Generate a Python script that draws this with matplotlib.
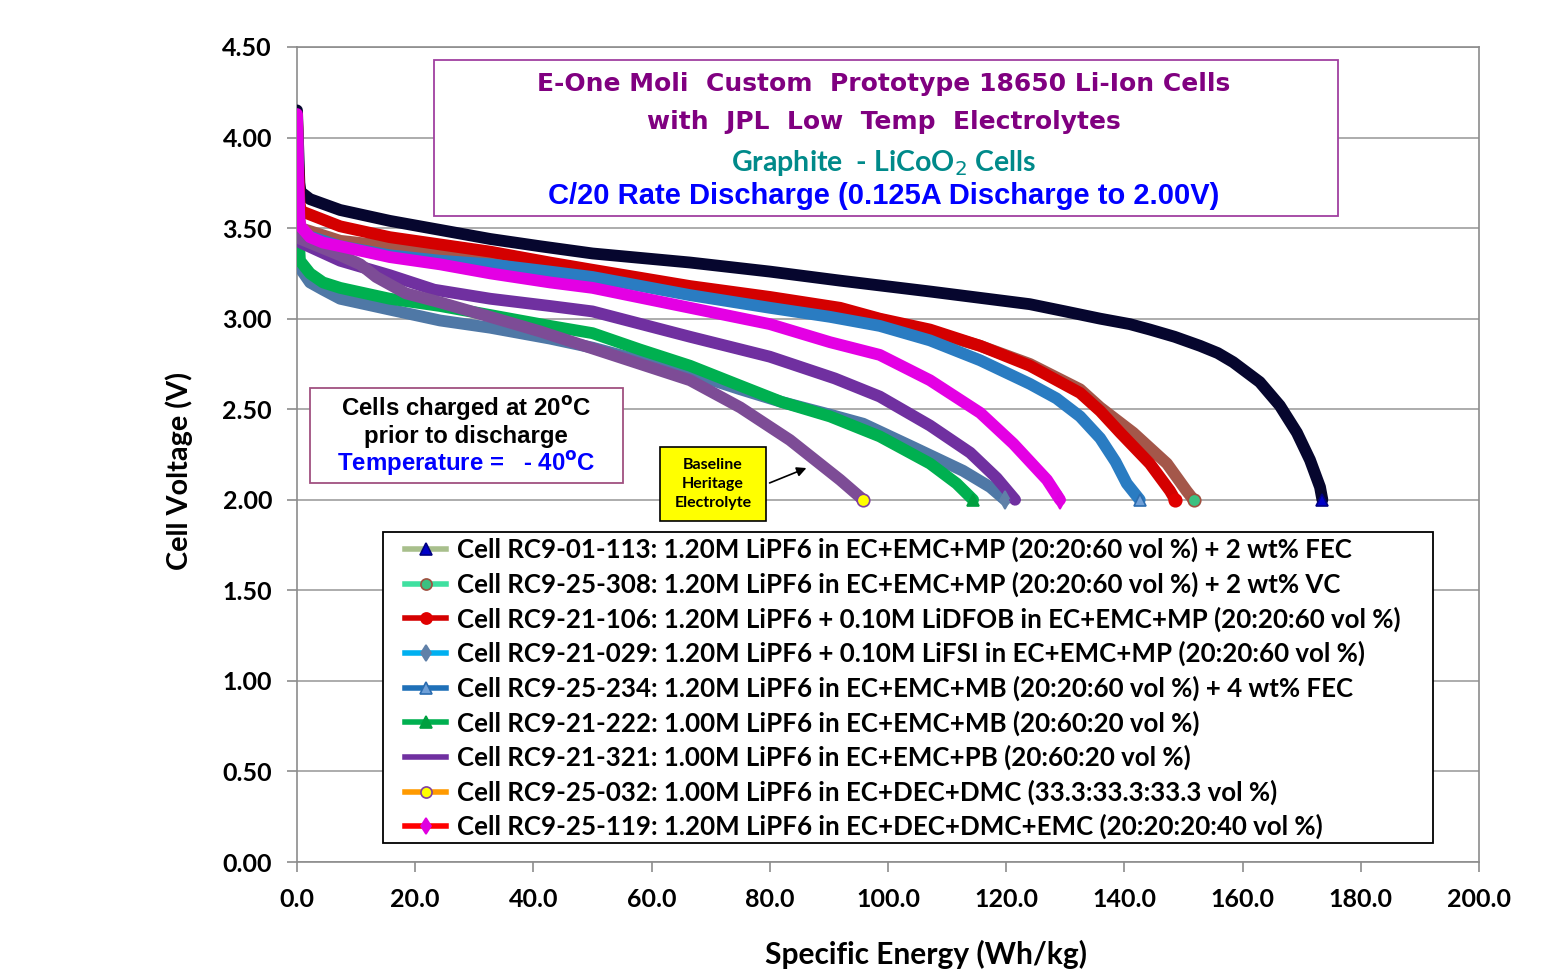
import matplotlib
matplotlib.use("Agg")
import matplotlib.pyplot as plt
from matplotlib.lines import Line2D
from matplotlib.patches import Rectangle

# ---------------- data ----------------
labels = [
    "Cell RC9-01-113: 1.20M LiPF6 in EC+EMC+MP (20:20:60 vol %) + 2 wt% FEC",
    "Cell RC9-25-308: 1.20M LiPF6 in EC+EMC+MP (20:20:60 vol %) + 2 wt% VC",
    "Cell RC9-21-106: 1.20M LiPF6 + 0.10M LiDFOB in EC+EMC+MP (20:20:60 vol %)",
    "Cell RC9-21-029: 1.20M LiPF6 + 0.10M LiFSI in EC+EMC+MP (20:20:60 vol %)",
    "Cell RC9-25-234: 1.20M LiPF6 in EC+EMC+MB (20:20:60 vol %) + 4 wt% FEC",
    "Cell RC9-21-222: 1.00M LiPF6 in EC+EMC+MB (20:60:20 vol %)",
    "Cell RC9-21-321: 1.00M LiPF6 in EC+EMC+PB (20:60:20 vol %)",
    "Cell RC9-25-032: 1.00M LiPF6 in EC+DEC+DMC (33.3:33.3:33.3 vol %)",
    "Cell RC9-25-119: 1.20M LiPF6 in EC+DEC+DMC+EMC (20:20:20:40 vol %)",
]

e_113 = [0, 0.2, 0.4, 0.6, 2.2, 7.3, 15.7, 24.2, 32.7, 41.1, 50, 66.5, 80, 91.9, 107.1,
         124, 130, 135.9, 140.9, 144.3, 148.5, 152.8, 155.8, 158.4, 162.9, 166.3, 169.2,
         171.4, 173.1, 173.5]
v_113 = [4.15, 3.95, 3.75, 3.70, 3.66, 3.60, 3.54, 3.49, 3.44, 3.40, 3.36, 3.31, 3.26, 3.21, 3.15,
         3.08, 3.04, 3.00, 2.97, 2.94, 2.90, 2.85, 2.81, 2.76, 2.65, 2.52, 2.37,
         2.22, 2.07, 2.00]

e_308 = [0, 0.2, 0.4, 0.6, 7.3, 15.7, 32.7, 50, 66.5, 91.9, 107.1, 115.6, 124, 132.5,
         135.9, 141.5, 147.2, 150.5, 151.7]
v_308 = [4.10, 3.75, 3.55, 3.50, 3.43, 3.40, 3.34, 3.26, 3.17, 3.05, 2.93, 2.85, 2.75, 2.61,
         2.51, 2.37, 2.20, 2.05, 2.00]

e_106 = [0, 0.2, 0.4, 0.6, 1.0, 7.3, 15.7, 24.2, 32.7, 42.8, 50, 66.5, 80, 91.9, 98.6,
         107.1, 115.6, 124, 132.5, 135.9, 139.3, 144.3, 147.7, 148.6]
v_106 = [4.12, 3.85, 3.65, 3.60, 3.59, 3.51, 3.45, 3.41, 3.37, 3.31, 3.27, 3.18, 3.12, 3.06, 3.00,
         2.94, 2.85, 2.74, 2.59, 2.49, 2.37, 2.20, 2.05, 2.00]

e_029 = [0, 0.2, 0.5, 2.2, 4.4, 7.3, 15.7, 24.2, 32.7, 42.8, 50, 58, 66.5, 75, 82, 90.2,
         95.8, 104.3, 112.7, 117.3, 119.8]
v_029 = [4.10, 3.40, 3.28, 3.20, 3.16, 3.11, 3.05, 2.99, 2.95, 2.89, 2.84, 2.77, 2.70, 2.61,
         2.54, 2.47, 2.42, 2.29, 2.16, 2.07, 2.00]

e_234 = [0, 0.2, 0.4, 0.6, 7.3, 15.7, 24.2, 32.7, 42.8, 50, 66.5, 80, 90.2, 98.6, 107.1,
         115.6, 124, 128.5, 132.5, 135.9, 138.5, 140.4, 142.6]
v_234 = [4.10, 3.70, 3.52, 3.47, 3.40, 3.35, 3.32, 3.30, 3.26, 3.23, 3.13, 3.06, 3.01, 2.96,
         2.88, 2.77, 2.64, 2.56, 2.46, 2.34, 2.21, 2.09, 2.00]

e_222 = [0, 0.2, 0.5, 2.2, 4.4, 7.3, 15.7, 24.2, 32.7, 42.8, 50, 58, 66.5, 75, 82, 90.2,
         98.6, 107.1, 111.6, 114.4]
v_222 = [4.10, 3.50, 3.32, 3.25, 3.20, 3.17, 3.11, 3.07, 3.02, 2.96, 2.92, 2.83, 2.74, 2.63,
         2.54, 2.46, 2.35, 2.20, 2.09, 2.00]

e_321 = [0, 0.2, 0.4, 0.6, 7.3, 15.7, 23.2, 32.7, 42.8, 50, 66.5, 80, 91, 98.6, 107.1,
         113.9, 118.4, 121.5]
v_321 = [4.10, 3.65, 3.46, 3.42, 3.32, 3.24, 3.16, 3.11, 3.07, 3.04, 2.90, 2.79, 2.67, 2.57,
         2.41, 2.26, 2.12, 2.00]

e_032 = [0, 0.2, 0.4, 0.6, 7.3, 10.7, 13.4, 18.4, 24.2, 32.7, 41.1, 52.4, 66.5, 75, 83.4,
         91.9, 95.8]
v_032 = [4.10, 3.65, 3.48, 3.44, 3.35, 3.30, 3.23, 3.14, 3.09, 3.01, 2.93, 2.81, 2.66, 2.51,
         2.33, 2.11, 2.00]

e_119 = [0, 0.2, 0.4, 0.6, 2.2, 4.4, 7.3, 15.7, 24.2, 32.7, 42.8, 50, 66.5, 80, 90.2, 98.6,
         107.1, 115.6, 121.2, 126.9, 129.1]
v_119 = [4.13, 3.80, 3.55, 3.51, 3.45, 3.42, 3.40, 3.34, 3.30, 3.25, 3.20, 3.17, 3.06, 2.97,
         2.87, 2.80, 2.66, 2.48, 2.31, 2.11, 2.00]

energies = [e_113, e_308, e_106, e_029, e_234, e_222, e_321, e_032, e_119]
voltages = [v_113, v_308, v_106, v_029, v_234, v_222, v_321, v_032, v_119]

x_ticks = [0, 20, 40, 60, 80, 100, 120, 140, 160, 180, 200]
y_ticks = [0.0, 0.5, 1.0, 1.5, 2.0, 2.5, 3.0, 3.5, 4.0, 4.5]

# ---------------- styles ----------------
body_colors = ["#06062e", "#a4574a", "#d40000", "#4f78a6", "#2a7cc2",
               "#00b050", "#7030a0", "#7d4c96", "#e400e4"]
legend_line_colors = ["#a8bf8c", "#3fe0a0", "#d40000", "#00b0f0", "#1f70b8",
                      "#00b050", "#7030a0", "#ff9a00", "#ff0000"]
markers = ["^", "o", "o", "d", "^", "^", "_", "o", "d"]
marker_faces = ["#0000c8", "#3cc080", "#e00000", "#6080a8", "#6fa0d8",
                "#00a040", "#7030a0", "#ffff00", "#e000e0"]
marker_edges = ["#000080", "#a05040", "#e00000", "#6080a8", "#2a6cb0",
                "#00a040", "#7030a0", "#8040a0", "#e000e0"]

FONT = "Lato"

fig = plt.figure(figsize=(15.47, 9.69), dpi=100)
ax = fig.add_axes([297 / 1547, 107 / 969, 1182 / 1547, 815 / 969])


def fx(px):
    return (px - 297) / 1182


def fy(py):
    return (862 - py) / 815


for i in range(len(labels)):
    ax.plot(energies[i], voltages[i], color=body_colors[i], lw=8.5,
            solid_capstyle="round", solid_joinstyle="round", zorder=3 + i)
    ax.plot(energies[i][-1:], voltages[i][-1:], linestyle="none",
            marker=markers[i], ms=9, mfc=marker_faces[i], mec=marker_edges[i],
            mew=1.2, zorder=20 + i)

ax.set_xlim(0, 200)
ax.set_ylim(0, 4.5)
ax.set_xticks(x_ticks)
ax.set_yticks(y_ticks)
ax.set_xticklabels([f"{t:.1f}" for t in x_ticks])
ax.set_yticklabels([f"{t:.2f}" for t in y_ticks])
ax.yaxis.grid(True, color="#a6a6a6", lw=1.3, zorder=0)
ax.set_axisbelow(True)
for s in ax.spines.values():
    s.set_color("#8c8c8c")
    s.set_linewidth(1.2)
ax.tick_params(axis="both", direction="out", length=7, width=1.2, color="#8c8c8c",
               labelsize=18)
ax.tick_params(axis="y", pad=11)
ax.tick_params(axis="x", pad=12)
for lab in ax.get_xticklabels() + ax.get_yticklabels():
    lab.set_fontfamily(FONT)
    lab.set_fontweight("bold")

ax.set_xlabel("Specific Energy (Wh/kg)", fontfamily=FONT, fontweight="bold", fontsize=21.5)
ax.set_ylabel("Cell Voltage (V)", fontfamily=FONT, fontweight="bold", fontsize=20.7)
ax.xaxis.set_label_coords(fx(926), fy(940))
ax.yaxis.set_label_coords(fx(193), fy(471))

# ---------------- legend ----------------
ax.add_patch(Rectangle((fx(383), fy(843)), fx(1433) - fx(383), fy(532) - fy(843),
                       transform=ax.transAxes, ec="#000000", fc="white", lw=1.3, zorder=39))
handles = [Line2D([0], [0], color=legend_line_colors[i], lw=4, marker=markers[i],
                  ms=8, mfc=marker_faces[i], mec=marker_edges[i], mew=1.2)
           for i in range(len(labels))]
leg = ax.legend(handles, labels, loc="upper left",
                bbox_to_anchor=(fx(405), fy(537)),
                prop={"family": FONT, "weight": "bold", "size": 18.6},
                frameon=False, handlelength=1.6, handletextpad=0.42,
                labelspacing=0.36, borderpad=0, borderaxespad=0)
leg.set_zorder(40)

# ---------------- annotation boxes ----------------
def box(x0, y0, x1, y1, ec, fc="white", lw=1.3, z=30):
    ax.add_patch(Rectangle((fx(x0), fy(y1)), fx(x1) - fx(x0), fy(y0) - fy(y1),
                           transform=ax.transAxes, ec=ec, fc=fc, lw=lw, zorder=z))


def txt(xp, yp, s, **kw):
    ax.text(fx(xp), fy(yp), s, transform=ax.transAxes,
            ha="center", va="center", zorder=35, **kw)


box(434, 60, 1338, 216, "#a040a0")
txt(884, 84, "E-One Moli  Custom  Prototype 18650 Li-Ion Cells", color="#800080",
    fontsize=18, fontweight="bold", fontfamily="DejaVu Sans")
txt(884, 122, "with  JPL  Low  Temp  Electrolytes", color="#800080",
    fontsize=18, fontweight="bold", fontfamily="DejaVu Sans")
txt(884, 163, "Graphite  - LiCoO$_2$ Cells", color="#008a8a",
    fontsize=20.5, fontweight="bold", fontfamily=FONT)
txt(884, 196, "C/20 Rate Discharge (0.125A Discharge to 2.00V)", color="#0000ff",
    fontsize=21, fontweight="bold", fontfamily="Liberation Sans")

box(310, 388, 623, 483, "#a05080")
txt(466, 409, "Cells charged at 20$^{\\mathbf{o}}$C", color="#000000",
    fontsize=17.3, fontweight="bold", fontfamily="Liberation Sans")
txt(466, 436, "prior to discharge", color="#000000",
    fontsize=17.3, fontweight="bold", fontfamily="Liberation Sans")
txt(466, 463, "Temperature =   - 40$^{\\mathbf{o}}$C", color="#0000ff",
    fontsize=17.3, fontweight="bold", fontfamily="Liberation Sans")

box(660, 447, 766, 521, "#000000", fc="#ffff00", lw=1.2)
txt(713, 465, "Baseline", fontsize=11.5, fontweight="bold", fontfamily=FONT)
txt(713, 484, "Heritage", fontsize=11.5, fontweight="bold", fontfamily=FONT)
txt(713, 503, "Electrolyte", fontsize=11.5, fontweight="bold", fontfamily=FONT)
ax.annotate("", xy=(fx(809), fy(467)), xytext=(fx(767), fy(484)),
            xycoords="axes fraction", textcoords="axes fraction",
            arrowprops=dict(arrowstyle="-|>", color="black", lw=1.2, mutation_scale=14),
            zorder=36)

fig.savefig("out.png", dpi=100)
